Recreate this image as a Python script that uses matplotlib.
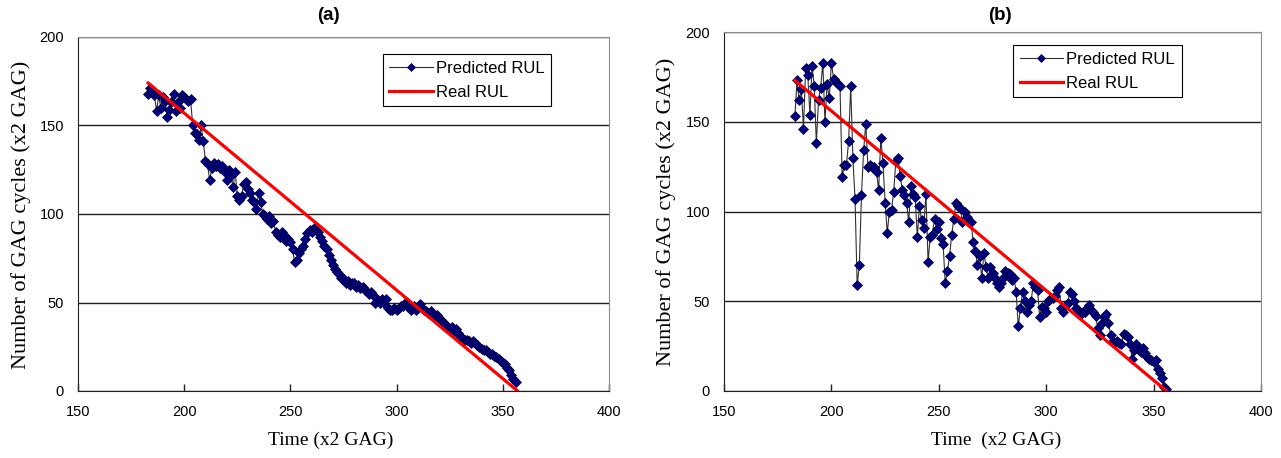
import matplotlib
matplotlib.use("Agg")
import matplotlib.pyplot as plt
import numpy as np

# time axis (x2 GAG) for both runs
time_a = np.arange(183, 357)
time_b = np.arange(183, 357)

# predicted RUL, run (a)
pred_a = [
    168, 171, 169, 167, 158, 167, 160, 166, 164, 155,
    159, 163, 168, 158, 163, 160, 167, 166, 165, 164,
    165, 150, 146, 145, 142, 150, 141, 130, 128, 119,
    126, 129, 127, 128, 126, 127, 124, 119, 125, 122,
    115, 124, 110, 108, 110, 117, 118, 114, 112, 108,
    107, 103, 112, 107, 100, 99, 97, 99, 95, 96,
    90, 88, 87, 90, 88, 85, 86, 84, 80, 73,
    74, 78, 80, 82, 86, 89, 91, 90, 92, 91,
    90, 87, 85, 82, 80, 77, 74, 71, 69, 67,
    66, 64, 63, 61, 62, 60, 61, 61, 59, 60,
    58, 59, 57, 56, 55, 56, 54, 50, 52, 50,
    52, 50, 52, 47, 46, 46, 47, 46, 47, 48,
    48, 50, 49, 47, 46, 48, 46, 47, 49, 47,
    46, 45, 44, 45, 43, 42, 43, 41, 40, 39,
    38, 36, 35, 36, 34, 35, 33, 31, 30, 29,
    29, 28, 27, 28, 27, 26, 25, 24, 23, 23,
    22, 21, 21, 20, 19, 18, 17, 16, 15, 13,
    12, 9, 7, 5,
]

# predicted RUL, run (b)
pred_b = [
    153, 173, 162, 168, 146, 180, 176, 154, 181, 170,
    138, 162, 169, 183, 150, 171, 163, 183, 174, 172,
    171, 170, 119, 126, 126, 139, 170, 130, 107, 59,
    70, 109, 134, 149, 125, 126, 125, 125, 122, 112,
    141, 127, 105, 88, 100, 101, 111, 128, 130, 120,
    112, 109, 105, 94, 114, 110, 108, 86, 103, 95,
    91, 110, 72, 86, 87, 96, 90, 94, 85, 82,
    60, 67, 75, 87, 96, 105, 103, 102, 94, 100,
    97, 94, 94, 83, 78, 70, 75, 63, 77, 69,
    63, 69, 66, 63, 60, 58, 60, 63, 67, 66,
    65, 62, 63, 55, 36, 46, 55, 50, 44, 48,
    50, 60, 58, 56, 41, 47, 46, 44, 50, 51,
    52, 53, 56, 58, 46, 44, 48, 49, 55, 54,
    50, 46, 45, 43, 44, 44, 46, 48, 45, 44,
    42, 35, 31, 38, 41, 43, 38, 31, 28, 27,
    28, 27, 26, 32, 31, 30, 26, 18, 23, 26,
    23, 22, 24, 21, 19, 18, 17, 16, 17, 12,
    10, 7, 2, 1,
]

# real RUL: straight countdown to end of life
real_start = 183
real_end_a = 357
real_end_b = 356


def style_axes(ax):
    """
    Excel-like frame: grey box, horizontal gridlines, inward x ticks.
    """
    ax.set_xlim(150, 400)
    ax.set_ylim(0, 200)
    ax.set_xticks([150, 200, 250, 300, 350, 400])
    ax.set_yticks([0, 50, 100, 150, 200])
    ax.yaxis.grid(True, color='#202020', linewidth=1.0)
    ax.set_axisbelow(True)
    for side in ['top', 'right']:
        ax.spines[side].set_color('#8c8c8c')
    for side in ['left', 'bottom']:
        ax.spines[side].set_color('#202020')
    ax.tick_params(axis='x', direction='in', length=5, width=1, pad=10,
                   labelsize=10.5, color='#202020')
    ax.tick_params(axis='y', length=0, pad=10, labelsize=10.5)
    for lbl in ax.get_xticklabels() + ax.get_yticklabels():
        lbl.set_fontfamily('Liberation Sans')


def panel(ax, t, pred, end, legend_pos):
    real_t = np.array([real_start, end])
    real_v = end - real_t
    ax.plot(t, pred, color='#303030', linewidth=0.8, marker='D',
            markersize=5.2, markerfacecolor='#000080',
            markeredgecolor='#000033', markeredgewidth=0.5,
            label='Predicted RUL')
    ax.plot(real_t, real_v, color='#ff0000', linewidth=2.3,
            label='Real RUL')
    style_axes(ax)
    leg = ax.legend(loc='upper left', bbox_to_anchor=legend_pos,
                    borderaxespad=0, fancybox=False, framealpha=1,
                    edgecolor='#000000', handlelength=2.6,
                    handletextpad=0.2, labelspacing=0.55,
                    borderpad=0.4,
                    prop={'family': 'Liberation Sans', 'size': 12})
    leg.get_frame().set_linewidth(0.8)
    # smaller diamond in the legend key
    leg.legend_handles[0].set_markersize(3.8)


fig = plt.figure(figsize=(12.81, 4.58), dpi=100)
W, H = 1281.0, 458.0

ax_a = fig.add_axes([78 / W, (H - 391) / H, 531 / W, 354 / H])
ax_b = fig.add_axes([724 / W, (H - 391) / H, 537 / W, 359 / H])

panel(ax_a, time_a, pred_a, real_end_a, (0.574, 0.952))
panel(ax_b, time_b, pred_b, real_end_b, (0.538, 0.964))

# titles and axis labels
serif = 'Liberation Serif'
fig.text(328 / W, 1 - 16 / H, '(a)', ha='center', va='center',
         fontsize=13.5, fontweight='bold', family='Liberation Sans')
fig.text(1000 / W, 1 - 16 / H, '(b)', ha='center', va='center',
         fontsize=13.5, fontweight='bold', family='Liberation Sans')
fig.text(21 / W, 1 - 215 / H, 'Number of GAG cycles (x2 GAG)',
         rotation=90, ha='center', va='center', fontsize=16, family=serif)
fig.text(666 / W, 1 - 212 / H, 'Number of GAG cycles (x2 GAG)',
         rotation=90, ha='center', va='center', fontsize=16, family=serif)
fig.text(331 / W, 1 - 440 / H, 'Time (x2 GAG)', ha='center',
         va='center', fontsize=14, family=serif)
fig.text(996 / W, 1 - 440 / H, 'Time  (x2 GAG)', ha='center',
         va='center', fontsize=14, family=serif)

plt.savefig('out.png', dpi=100)
